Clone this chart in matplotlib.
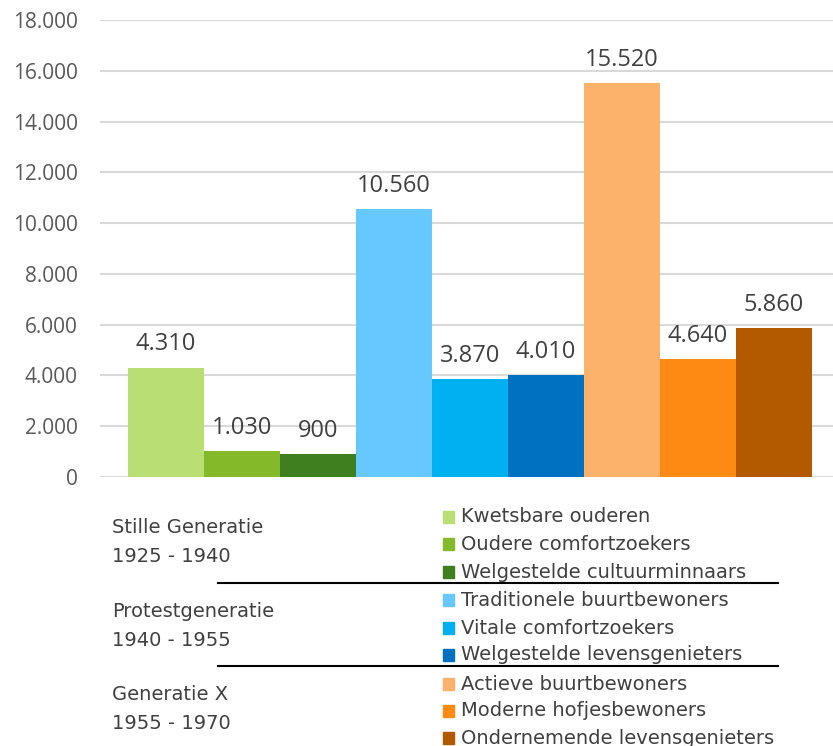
import matplotlib.pyplot as plt
from matplotlib.patches import Rectangle
from matplotlib.lines import Line2D

segments = ["Kwetsbare ouderen", "Oudere comfortzoekers", "Welgestelde cultuurminnaars",
            "Traditionele buurtbewoners", "Vitale comfortzoekers", "Welgestelde levensgenieters",
            "Actieve buurtbewoners", "Moderne hofjesbewoners", "Ondernemende levensgenieters"]
values = [4310, 1030, 900, 10560, 3870, 4010, 15520, 4640, 5860]
colors = ["#B8DE74", "#84B92A", "#3F7F20", "#66C8FF", "#00B0F0", "#0070C0",
          "#FCB26A", "#FD8A12", "#B35A00"]
generations = ["Stille Generatie\n1925 - 1940", "Protestgeneratie\n1940 - 1955",
               "Generatie X\n1955 - 1970"]
yticks = [0, 2000, 4000, 6000, 8000, 10000, 12000, 14000, 16000, 18000]

W, H = 833, 746
fig = plt.figure(figsize=(W / 100, H / 100), dpi=100)
ax = fig.add_axes([100 / W, 1 - 477 / H, 733 / W, 457 / H])

x = list(range(len(values)))
ax.bar(x, values, width=1.0, color=colors, zorder=2)
for xi, v in zip(x, values):
    ax.annotate(f"{v:,}".replace(",", "."), (xi, v), xytext=(0, 8), textcoords="offset points",
                ha="center", va="bottom", fontsize=17, color="#404040", fontfamily="Open Sans")

ax.set_xlim(-0.5 - 28 / 76, 8.5 + 21 / 76)
ax.set_ylim(0, 18000)
ax.set_yticks(yticks)
ax.set_yticklabels([f"{t:,}".replace(",", ".") for t in yticks], fontsize=15,
                   color="#595959", fontfamily="Open Sans")
ax.set_xticks([])
ax.tick_params(axis="y", length=0, pad=16)
ax.grid(axis="y", color="#D9D9D9", linewidth=1.5, zorder=0)
for s in ax.spines.values():
    s.set_visible(False)

# legend block below the chart
fam = ["DejaVu Sans"]
row_y = [517, 544, 572, 600, 628, 655, 684, 711, 738]
for name, c, yy in zip(segments, colors, row_y):
    fig.patches.append(Rectangle((443 / W, 1 - (yy + 6) / H), 11 / W, 12 / H,
                                 transform=fig.transFigure, color=c))
    fig.text(461 / W, 1 - yy / H, name, fontsize=14, color="#404040", va="center",
             fontfamily=fam)

gen_y = [542, 626, 709]
for g, yy in zip(generations, gen_y):
    fig.text(112 / W, 1 - yy / H, g, fontsize=14, color="#404040", va="center",
             fontfamily=fam, linespacing=1.7)

for yy in [583, 666]:
    fig.add_artist(Line2D([218 / W, 778 / W], [1 - yy / H, 1 - yy / H],
                          transform=fig.transFigure, color="black", linewidth=1.5))

fig.savefig("out.png", dpi=100)
